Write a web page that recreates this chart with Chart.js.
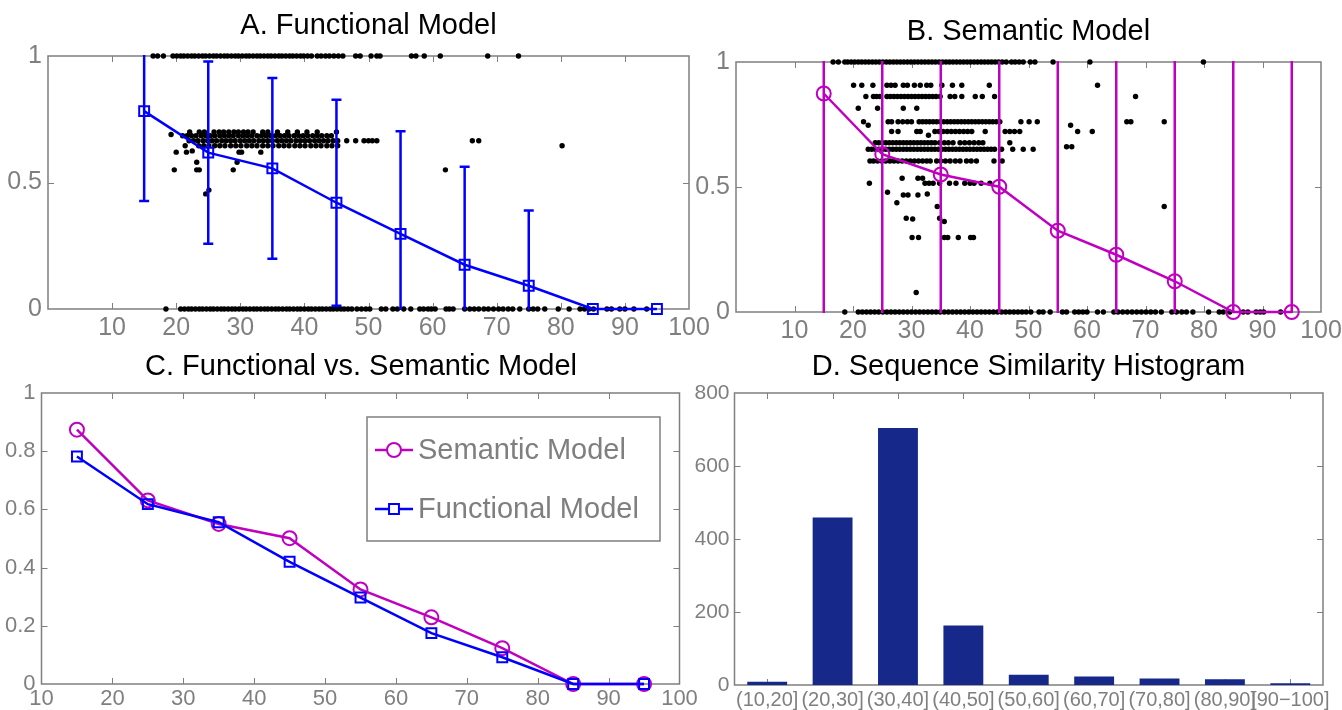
<!DOCTYPE html>
<html>
<head>
<meta charset="utf-8">
<script src="https://cdn.jsdelivr.net/npm/chart.js@4.4.1/dist/chart.umd.min.js"></script>
<style>
  body { margin: 0; background: #fff; }
  #wrap { position: relative; width: 1342px; height: 710px; overflow: hidden; }
  canvas { position: absolute; }
  .title { position: absolute; text-align: center; font: 29px/29px "Liberation Sans", Arial, sans-serif; color: #000; white-space: nowrap; }
</style>
</head>
<body>
<div id="wrap">
  <canvas id="cA" width="712" height="345" style="left:0;top:0"></canvas>
  <canvas id="cB" width="652" height="345" style="left:690px;top:0"></canvas>
  <canvas id="cC" width="712" height="365" style="left:0;top:345px"></canvas>
  <canvas id="cD" width="652" height="365" style="left:690px;top:345px"></canvas>
  <div class="title" style="left:48px;width:641px;top:10px">A. Functional Model</div>
  <div class="title" style="left:736px;width:585px;top:16px">B. Semantic Model</div>
  <div class="title" style="left:42px;width:638px;top:351px">C. Functional vs. Semantic Model</div>
  <div class="title" style="left:734px;width:589px;top:351px">D. Sequence Similarity Histogram</div>
</div>
<script>
// ---- data ----
var bins = [15, 25, 35, 45, 55, 65, 75, 85, 95];
var functionalMean = [0.782, 0.618, 0.556, 0.42, 0.297, 0.175, 0.092, 0, 0];
var functionalErr  = [0.355, 0.36, 0.357, 0.407, 0.406, 0.387, 0.297, 0, 0];
var semanticMean = [0.874, 0.631, 0.55, 0.501, 0.325, 0.229, 0.123, 0, 0];
var semanticErr  = [1.08, 1.12, 1.1, 1.15, 1.2, 1.18, 1.1, 1.02, 1.02];

var histLabels = ['(10,20]', '(20,30]', '(30,40]', '(40,50]', '(50,60]', '(60,70]', '(70,80]', '(80,90]', '[90\u2212100]'];
var histCounts = [9, 459, 704, 163, 28, 23, 18, 16, 5];

// panel A scatter: [y, x values]
var funcRows = [
  [1, [16.4, 17.1, 18.0, 19.5, 20.1, 20.7, 21.2, 21.8, 22.4, 22.9, 23.5, 24.1, 24.6, 25.2, 25.8, 26.3, 26.9, 27.5, 28.0, 28.6, 29.2, 29.7, 30.3, 30.9, 31.4, 32.0, 32.6, 33.1, 33.7, 34.3, 34.8, 35.4, 36.0, 36.5, 37.1, 37.7, 38.2, 38.8, 39.4, 39.9, 40.5, 41.1, 42.0, 42.6, 43.3, 43.9, 44.6, 45.3, 46.0, 48.0, 48.7, 50.4, 51.3, 51.8, 56.7, 57.4, 58.7, 61.2, 68.6, 73.4]],
  [0, [18.4, 20.7, 21.3, 21.9, 22.4, 23.0, 23.6, 24.1, 24.7, 25.3, 25.8, 26.4, 27.0, 27.5, 28.1, 28.7, 29.2, 29.8, 30.4, 30.9, 31.5, 32.1, 32.6, 33.2, 33.8, 34.3, 34.9, 35.5, 36.0, 36.6, 37.2, 37.7, 38.3, 38.9, 39.4, 40.0, 40.6, 41.1, 41.7, 42.3, 42.8, 43.4, 44.0, 44.5, 45.1, 45.7, 46.2, 46.8, 47.4, 48.2, 48.9, 49.6, 50.2, 52.0, 52.7, 53.8, 54.5, 55.5, 56.6, 58.0, 58.6, 59.3, 59.8, 60.4, 62.1, 62.6, 63.2, 65.0, 65.8, 66.5, 67.2, 68.0, 68.7, 69.5, 70.3, 71.0, 71.8, 72.5, 73.6, 75.0, 75.7, 76.4, 77.5, 79.6, 81.3, 83.0, 83.7, 84.4, 85.1, 87.2, 87.9, 89.2, 90.0, 91.4, 93.4]],
  [0.70, [22.1, 23.6, 24.4, 25.9, 26.7, 27.4, 28.2, 29.0, 29.7, 30.5, 31.2, 32.0, 33.5, 34.3, 35.8, 37.4, 38.9, 40.4, 42.0, 45.0]],
  [0.685, [21.0, 21.7, 22.4, 23.1, 23.9, 24.6, 25.3, 26.0, 26.8, 27.5, 28.2, 28.9, 29.7, 30.4, 31.1, 31.8, 32.6, 33.3, 34.0, 34.7, 35.5, 36.2, 36.9, 37.6, 38.4, 39.1, 39.8, 40.5, 41.3, 42.0, 42.7, 43.5, 44.2]],
  [0.665, [22.0, 22.7, 23.4, 24.2, 24.9, 25.6, 26.3, 27.1, 27.8, 28.5, 29.2, 30.0, 30.7, 31.4, 32.1, 32.9, 33.6, 34.3, 35.0, 35.8, 36.5, 37.2, 37.9, 38.7, 39.4, 40.1, 40.8, 41.6, 42.3, 43.0, 43.7, 44.5, 45.2, 46.6, 48.0, 49.3, 50.0, 50.6, 51.3, 66.2, 67.2]],
  [0.645, [23.5, 24.3, 25.1, 26.0, 26.8, 27.6, 28.5, 29.3, 30.1, 31.0, 31.8, 32.6, 33.5, 34.3, 35.1, 36.0, 36.8, 37.6, 38.5, 39.3, 40.1, 41.0, 41.8, 42.6, 43.5, 44.3, 45.2, 80.2]]
];
var funcLoose = [[19.2, 0.69], [19.7, 0.55], [20.0, 0.62], [21.4, 0.645], [21.6, 0.62], [22.5, 0.625], [23.2, 0.58], [23.2, 0.55], [23.6, 0.55], [24.6, 0.455], [25.1, 0.47], [28.9, 0.55], [29.5, 0.58], [29.8, 0.62], [30.2, 0.62], [33.2, 0.62], [62.0, 0.55]];

// panel B scatter: [y, x values]
var semRows = [
  [1, [16.6, 17.5, 18.6, 19.1, 19.7, 20.3, 20.9, 21.5, 22.1, 22.7, 23.3, 23.9, 24.5, 25.1, 25.7, 26.3, 26.9, 27.5, 28.1, 28.7, 29.3, 29.9, 30.5, 31.1, 31.7, 32.3, 32.9, 33.5, 34.1, 34.7, 35.3, 35.9, 36.5, 37.1, 37.7, 38.3, 38.9, 39.5, 40.1, 40.7, 41.3, 41.9, 42.5, 43.1, 43.7, 44.3, 44.9, 45.5, 46.2, 47.1, 47.7, 48.4, 49.1, 50.3, 51.1, 54.2, 60.5, 79.9]],
  [0, [18.6, 20.9, 21.6, 22.3, 23.0, 23.7, 24.4, 25.1, 25.8, 26.5, 27.2, 27.9, 28.6, 29.3, 30.0, 30.7, 31.4, 32.1, 32.8, 33.5, 34.2, 34.9, 35.6, 36.3, 37.0, 37.7, 38.4, 39.1, 39.8, 40.5, 41.2, 41.9, 42.6, 43.3, 44.0, 44.7, 45.4, 46.1, 46.8, 47.5, 48.2, 48.9, 49.6, 50.4, 51.8, 52.5, 53.7, 55.8, 56.5, 57.9, 58.6, 59.3, 60.0, 61.8, 62.8, 64.6, 65.3, 66.1, 66.9, 67.7, 68.5, 69.3, 70.1, 70.9, 71.7, 72.7, 74.5, 75.3, 76.2, 77.0, 78.1, 80.8, 82.6, 83.3, 84.4, 86.7, 87.5, 88.9, 89.6, 90.2, 93.1]],
  [0.907, [20.1, 21.5, 23.4, 25.8, 26.5, 27.2, 28.6, 29.3, 30.5, 31.5, 32.6, 33.3, 35.2, 37.0, 38.6, 43.3, 61.8]],
  [0.862, [22.2, 23.5, 24.0, 24.6, 25.8, 26.4, 27.0, 27.6, 28.2, 28.8, 29.4, 30.0, 30.6, 31.2, 31.8, 32.4, 33.0, 33.6, 34.2, 34.9, 36.6, 37.4, 38.6, 40.9, 42.1, 44.2, 68.3]],
  [0.815, [20.9, 24.2, 28.6, 30.9]],
  [0.761, [21.8, 26.0, 26.6, 27.7, 28.5, 29.3, 30.0, 31.3, 31.9, 32.5, 33.1, 33.7, 34.3, 34.9, 35.5, 36.1, 36.7, 37.3, 37.9, 38.5, 39.1, 39.7, 40.3, 40.9, 41.5, 42.1, 42.7, 43.3, 43.9, 44.5, 45.1, 48.7, 50.1, 51.5, 66.8, 67.5, 73.2]],
  [0.722, [26.6, 27.7, 30.9, 31.5, 34.0, 34.7, 35.4, 36.1, 36.8, 37.5, 38.2, 38.9, 39.6, 40.3, 42.6, 46.0, 46.8, 47.6, 48.5, 58.4, 60.9]],
  [0.677, [23.8, 24.4, 25.0, 25.6, 26.2, 26.8, 27.4, 28.0, 28.6, 29.2, 29.8, 30.4, 31.0, 31.6, 32.2, 32.8, 33.4, 34.0, 34.8, 35.6, 36.3, 37.1, 38.3, 39.1, 39.9, 40.7, 41.5, 42.2, 46.8]],
  [0.651, [22.6, 23.2, 23.8, 24.4, 25.0, 25.6, 26.2, 26.8, 27.4, 28.0, 28.6, 29.2, 29.8, 30.4, 31.0, 31.6, 32.2, 32.8, 33.4, 34.0, 34.6, 35.2, 35.8, 36.4, 37.0, 37.6, 38.2, 38.8, 39.4, 40.0, 40.6, 41.2, 41.8, 42.4, 43.0, 43.6, 44.2, 45.4, 47.3, 49.1, 50.8]],
  [0.604, [22.9, 23.5, 24.2, 24.9, 25.6, 26.3, 27.0, 27.7, 28.4, 29.1, 29.8, 30.5, 31.2, 31.9, 32.6, 33.2, 34.3, 35.0, 35.8, 36.6, 37.5, 38.3, 39.4, 40.2, 41.1, 44.1, 45.5]],
  [0.535, [28.4, 31.1, 31.9]],
  [0.515, [22.8, 32.3, 33.0, 33.7, 34.8, 36.5, 37.6, 39.1, 40.0, 40.7, 41.9, 43.4]],
  [0.298, [30.1, 31.2, 35.6, 36.2, 38.0, 40.1, 40.6]]
];
var semLoose = [[25.9, 0.479], [27.5, 0.437], [28.6, 0.468], [29.4, 0.468], [31.1, 0.468], [32.7, 0.472], [34.4, 0.422], [29.1, 0.375], [30.2, 0.372], [34.8, 0.375], [35.6, 0.362], [30.8, 0.078], [73.2, 0.422], [22.6, 0.747], [57.2, 0.747], [32.9, 0.707], [56.5, 0.661], [57.4, 0.661]];

// ---- styles ----
var FONT = '"Liberation Sans", Arial, sans-serif';
var GREY = '#7f7f7f';
var BLUE = '#0000ff';
var MAGENTA = '#c000c0';
var NAVY = '#16298a';

function toPoints(rows, loose) {
    var pts = [];
    rows.forEach(function(r) { r[1].forEach(function(x) { pts.push({ x: x, y: r[0] }); }); });
    loose.forEach(function(p) { pts.push({ x: p[0], y: p[1] }); });
    return pts;
}
function seriesPoints(means) {
    return bins.map(function(b, i) { return { x: b, y: means[i] }; });
}
function plainNum(v) { return String(Number(v.toFixed(2))); }

// box with inward tick marks, matlab style
var matlabAxes = {
    id: 'matlabAxes',
    beforeDatasetsDraw: function(chart) {
        var ctx = chart.ctx, a = chart.chartArea, x = chart.scales.x, y = chart.scales.y;
        ctx.save();
        ctx.strokeStyle = GREY;
        ctx.lineWidth = 1.5;
        ctx.strokeRect(a.left, a.top, a.right - a.left, a.bottom - a.top);
        ctx.lineWidth = 1;
        ctx.beginPath();
        x.ticks.forEach(function(t, i) {
            var px = Math.round(x.getPixelForTick(i)) + 0.5;
            if (px <= a.left + 2 || px >= a.right - 2) return;
            ctx.moveTo(px, a.bottom); ctx.lineTo(px, a.bottom - 6);
            ctx.moveTo(px, a.top); ctx.lineTo(px, a.top + 6);
        });
        y.ticks.forEach(function(t, i) {
            var py = Math.round(y.getPixelForTick(i)) + 0.5;
            if (py <= a.top + 2 || py >= a.bottom - 2) return;
            ctx.moveTo(a.left, py); ctx.lineTo(a.left + 6, py);
            ctx.moveTo(a.right, py); ctx.lineTo(a.right - 6, py);
        });
        ctx.stroke();
        ctx.restore();
    }
};

var errorBars = {
    id: 'errorBars',
    afterDatasetsDraw: function(chart, args, opts) {
        if (!opts || !opts.mean) return;
        var ctx = chart.ctx, a = chart.chartArea, x = chart.scales.x, y = chart.scales.y;
        ctx.save();
        ctx.beginPath();
        ctx.rect(a.left, a.top - 1, a.right - a.left, a.bottom - a.top + 2);
        ctx.clip();
        ctx.strokeStyle = opts.color;
        ctx.lineWidth = 2.5;
        ctx.beginPath();
        bins.forEach(function(b, i) {
            var e = opts.err[i];
            if (!e) return;
            var px = x.getPixelForValue(b);
            var lo = y.getPixelForValue(opts.mean[i] - e);
            var hi = y.getPixelForValue(opts.mean[i] + e);
            ctx.moveTo(px, lo); ctx.lineTo(px, hi);
            ctx.moveTo(px - 5, lo); ctx.lineTo(px + 5, lo);
            ctx.moveTo(px - 5, hi); ctx.lineTo(px + 5, hi);
        });
        ctx.stroke();
        ctx.restore();
    }
};

var legendBox = {
    id: 'legendBox',
    afterDatasetsDraw: function(chart, args, opts) {
        if (!opts || !opts.box) return;
        var ctx = chart.ctx, b = opts.box;
        ctx.save();
        ctx.fillStyle = '#fff';
        ctx.fillRect(b.x, b.y, b.w, b.h);
        ctx.strokeStyle = GREY;
        ctx.lineWidth = 1.5;
        ctx.strokeRect(b.x, b.y, b.w, b.h);
        chart.data.datasets.forEach(function(ds, i) {
            var cy = b.y + opts.rowY[i];
            ctx.strokeStyle = ds.borderColor;
            ctx.lineWidth = 2.5;
            ctx.beginPath();
            ctx.moveTo(b.x + 8, cy); ctx.lineTo(b.x + 46, cy);
            ctx.stroke();
            ctx.lineWidth = 2;
            ctx.fillStyle = '#fff';
            Chart.helpers.drawPoint(ctx, { pointStyle: ds.pointStyle, radius: ds.pointRadius, borderWidth: 2 }, b.x + 27, cy);
            ctx.fillStyle = GREY;
            ctx.font = '29px ' + FONT;
            ctx.textBaseline = 'middle';
            ctx.fillText(ds.label, b.x + 51, cy + 1);
        });
        ctx.restore();
    }
};

// fixes the plot box inside each canvas: left, top, right, bottom in canvas px
function frame(W, H, L, T, R, B) {
    return {
        layout: { padding: { left: 0, top: T, right: W - R, bottom: 0 } },
        fitX: function(s) { s.height = H - B; s.paddingLeft = 0; s.paddingRight = 0; },
        fitY: function(s) { s.width = L; s.paddingTop = 0; s.paddingBottom = 0; }
    };
}

function linearScales(f, xmin, hideFirst, ystep, fs, padX) {
    return {
        x: {
            type: 'linear', min: xmin, max: 100,
            grid: { display: false, drawTicks: false }, border: { display: false },
            ticks: { stepSize: 10, padding: padX, color: GREY, font: { family: FONT, size: fs },
                     maxRotation: 0, autoSkip: false,
                     callback: function(v) { return (hideFirst && v === xmin) ? '' : plainNum(v); } },
            afterFit: f.fitX
        },
        y: {
            min: 0, max: 1,
            grid: { display: false, drawTicks: false }, border: { display: false },
            ticks: { stepSize: ystep, padding: 6, color: GREY, font: { family: FONT, size: fs },
                     callback: plainNum },
            afterFit: f.fitY
        }
    };
}

var common = { responsive: false, animation: false, events: [] };

function scatterSet(points, order) {
    return { type: 'scatter', data: points, pointRadius: 2.7, pointBackgroundColor: '#000',
             pointBorderWidth: 0, showLine: false, clip: false, order: order };
}
function lineSet(label, points, color, style, order) {
    return { label: label, data: points, borderColor: color, borderWidth: 2.5, showLine: true,
             pointStyle: style, pointRadius: 7, pointBorderWidth: 2, pointBorderColor: color,
             pointBackgroundColor: 'rgba(0,0,0,0)', clip: false, order: order };
}

// A. Functional Model
var fA = frame(712, 345, 48, 56, 689, 309);
new Chart(document.getElementById('cA'), {
    type: 'scatter',
    data: { datasets: [
        lineSet('Functional Model', seriesPoints(functionalMean), BLUE, 'rect', 0),
        scatterSet(toPoints(funcRows, funcLoose), 2)
    ] },
    options: Object.assign({}, common, {
        layout: fA.layout,
        scales: linearScales(fA, 0, true, 0.5, 25, 4),
        plugins: { legend: { display: false }, tooltip: { enabled: false },
                   errorBars: { mean: functionalMean, err: functionalErr, color: BLUE } }
    }),
    plugins: [matlabAxes, errorBars]
});

// B. Semantic Model
var fB = frame(652, 345, 46, 62, 631, 312);
new Chart(document.getElementById('cB'), {
    type: 'scatter',
    data: { datasets: [
        lineSet('Semantic Model', seriesPoints(semanticMean), MAGENTA, 'circle', 0),
        scatterSet(toPoints(semRows, semLoose), 2)
    ] },
    options: Object.assign({}, common, {
        layout: fB.layout,
        scales: linearScales(fB, 0, true, 0.5, 25, 4),
        plugins: { legend: { display: false }, tooltip: { enabled: false },
                   errorBars: { mean: semanticMean, err: semanticErr, color: MAGENTA } }
    }),
    plugins: [matlabAxes, errorBars]
});

// C. Functional vs. Semantic Model
var fC = frame(712, 365, 41.5, 48, 679.5, 339);
new Chart(document.getElementById('cC'), {
    type: 'scatter',
    data: { datasets: [
        lineSet('Semantic Model', seriesPoints(semanticMean), MAGENTA, 'circle', 1),
        lineSet('Functional Model', seriesPoints(functionalMean), BLUE, 'rect', 0)
    ] },
    options: Object.assign({}, common, {
        layout: fC.layout,
        scales: linearScales(fC, 10, false, 0.2, 22, 2),
        plugins: { legend: { display: false }, tooltip: { enabled: false },
                   legendBox: { box: { x: 367, y: 72, w: 293, h: 124 }, rowY: [33, 92] } }
    }),
    plugins: [matlabAxes, legendBox]
});

// D. Sequence Similarity Histogram
var fD = frame(652, 365, 44.5, 48, 633, 340);
new Chart(document.getElementById('cD'), {
    type: 'bar',
    data: { labels: histLabels, datasets: [{ data: histCounts, backgroundColor: NAVY,
            barPercentage: 0.61, categoryPercentage: 1 }] },
    options: Object.assign({}, common, {
        layout: fD.layout,
        scales: {
            x: { grid: { display: false, drawTicks: false }, border: { display: false },
                 ticks: { padding: 3, color: GREY, font: { family: FONT, size: 20 }, maxRotation: 0, autoSkip: false },
                 afterFit: fD.fitX },
            y: { min: 0, max: 800, grid: { display: false, drawTicks: false }, border: { display: false },
                 ticks: { stepSize: 200, padding: 5, color: GREY, font: { family: FONT, size: 21 } },
                 afterFit: fD.fitY }
        },
        plugins: { legend: { display: false }, tooltip: { enabled: false } }
    }),
    plugins: [matlabAxes]
});
</script>
</body>
</html>
